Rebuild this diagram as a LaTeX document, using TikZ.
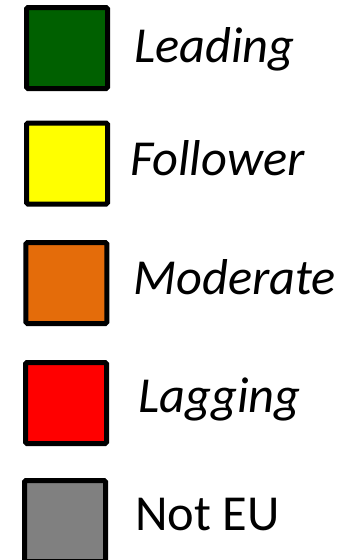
\documentclass[tikz,border=0pt]{standalone}
\usepackage{fontspec}
\setmainfont{Carlito}
\definecolor{leadgreen}{RGB}{0,96,0}
\definecolor{followyellow}{RGB}{255,255,0}
\definecolor{modorange}{RGB}{228,108,10}
\definecolor{lagred}{RGB}{255,0,0}
\definecolor{noteugray}{RGB}{128,128,128}
\begin{document}
\begin{tikzpicture}[x=1pt,y=-1pt,
  swatch/.style={draw=black,line width=5pt,rounded corners=1.5pt,minimum width=81pt,minimum height=81pt,inner sep=0pt,outer sep=0pt},
  keylabel/.style={anchor=base west,inner sep=0pt,font=\fontsize{50.4}{50.4}\selectfont}]
\useasboundingbox (0,0) rectangle (342,560);
% colour swatches
\node[swatch,fill=leadgreen]    (s1) at (67,48) {};
\node[swatch,fill=followyellow] (s2) at (67,163.5) {};
\node[swatch,fill=modorange]    (s3) at (66.3,283) {};
\node[swatch,fill=lagred]       (s4) at (66,403) {};
\node[swatch,fill=noteugray]    (s5) at (65,521) {};
% category labels
\node[keylabel] (l1) at (134,62)    {\itshape Leading};
\node[keylabel] (l2) at (130,175.5) {\itshape Follower};
\node[keylabel] (l3) at (133,294)   {\itshape Moderate};
\node[keylabel] (l4) at (138,412.5) {\itshape Lagging};
\node[keylabel] (l5) at (135,530)   {Not EU};
\end{tikzpicture}
\end{document}
